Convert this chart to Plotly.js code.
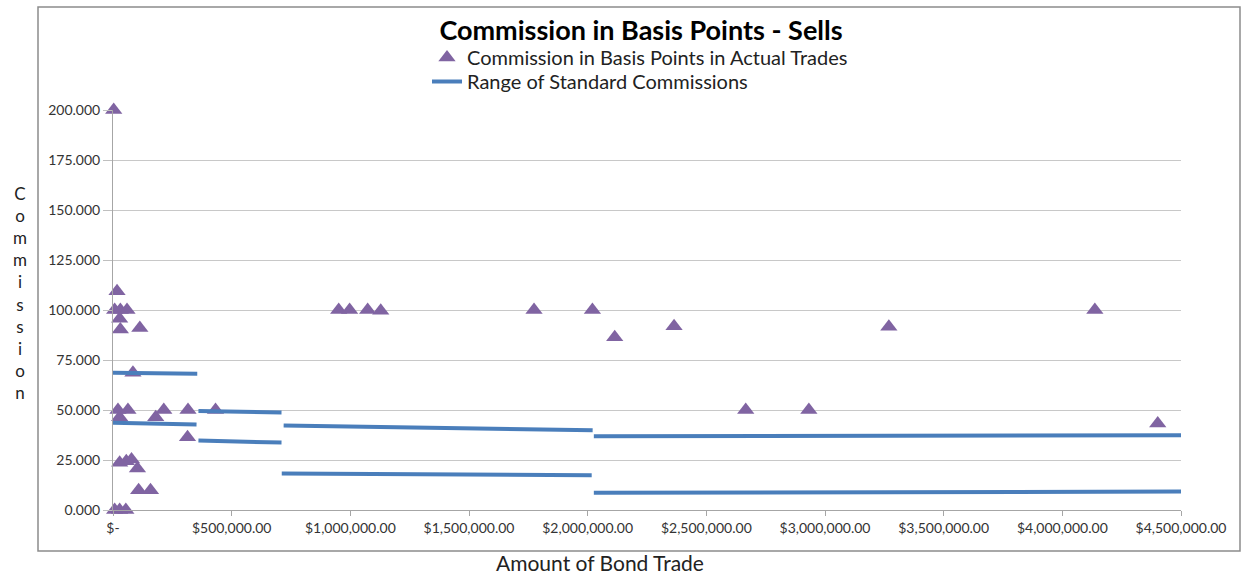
<!DOCTYPE html>
<html>
<head>
<meta charset="utf-8">
<script src="https://cdn.plot.ly/plotly-3.0.1.min.js"></script>
<style>
  html, body { margin: 0; padding: 0; background: #ffffff; }
  #chart { width: 1246px; height: 577px; }
</style>
</head>
<body>
<div id="chart"></div>
<script>
// Commission in basis points in actual trades (sells)
const tradeAmounts = [
  3000, 17000, 7000, 31000, 59000, 28000, 31000, 113000, 84000,
  21000, 63000, 214000, 316000, 432000, 28000, 180000, 314000,
  28000, 56000, 78000, 103000, 108000, 158000, 7000, 28000, 54000,
  951000, 997000, 1073000, 1128000, 1774000, 2020000, 2114000,
  2364000, 2666000, 2932000, 3269000, 4137000, 4402000
];
const commissionBps = [
  200, 109.4, 100, 100, 100, 95.6, 90.2, 91, 68.6,
  50, 50, 50, 50, 50, 46.4, 46.4, 36.4,
  23.6, 24.4, 25.2, 20.7, 9.9, 9.9, 0, 0, 0,
  100, 100, 100, 99.6, 100, 100, 86.4,
  91.9, 50, 50, 91.6, 100, 43.3
];

// Range of standard commissions: segment endpoints (null separates segments)
const rangeAmounts = [
  0, 355000, null,
  0, 352000, null,
  360000, 710000, null,
  360000, 710000, null,
  719000, 2021000, null,
  711000, 2017000, null,
  2026000, 4500000, null,
  2026000, 4500000
];
const rangeBps = [
  68.6, 68.1, null,
  43.6, 42.7, null,
  49.5, 48.8, null,
  34.7, 33.7, null,
  42.2, 39.9, null,
  18.2, 17.4, null,
  36.9, 37.4, null,
  8.6, 9.2
];

const xTickVals = [0, 500000, 1000000, 1500000, 2000000, 2500000, 3000000, 3500000, 4000000, 4500000];
const xTickText = ['$-', '$500,000.00', '$1,000,000.00', '$1,500,000.00', '$2,000,000.00',
                   '$2,500,000.00', '$3,000,000.00', '$3,500,000.00', '$4,000,000.00', '$4,500,000.00'];
const yTickVals = [0, 25, 50, 75, 100, 125, 150, 175, 200];

const FONT = 'Lato, "Open Sans", sans-serif';

const traces = [
  {
    type: 'scatter', mode: 'markers',
    name: 'Commission in Basis Points in Actual Trades',
    x: tradeAmounts, y: commissionBps,
    marker: { symbol: 'triangle-up', size: 15, color: '#8064a2', line: { width: 0 } },
    cliponaxis: false,
    legend: 'legend',
    hoverinfo: 'x+y'
  },
  {
    type: 'scatter', mode: 'lines',
    name: 'Range of Standard Commissions',
    x: rangeAmounts, y: rangeBps,
    line: { color: '#4a7ebb', width: 4 },
    connectgaps: false,
    cliponaxis: false,
    legend: 'legend2'
  }
];

const L = 113, R = 1181, T = 110, B = 510;
const PW = R - L, PH = B - T;
function px2x(px) { return (px - L) / PW; }
function py2y(py) { return (B - py) / PH; }

const legendFont = { family: FONT, size: 20, color: '#222222' };

const layout = {
  width: 1246, height: 577,
  margin: { l: L, r: 1246 - R, t: T, b: 577 - B, pad: 0 },
  paper_bgcolor: '#ffffff', plot_bgcolor: '#ffffff',
  font: { family: FONT, color: '#333333', size: 14 },
  title: {
    text: '<b>Commission in Basis Points - Sells</b>',
    font: { family: FONT, size: 27, color: '#000000' },
    xref: 'container', x: 641 / 1246, xanchor: 'center',
    yref: 'container', y: 1 - 31 / 577, yanchor: 'middle'
  },
  showlegend: true,
  legend: {
    x: px2x(427), xanchor: 'left',
    y: py2y(38), yanchor: 'top',
    font: legendFont, bgcolor: 'rgba(0,0,0,0)'
  },
  legend2: {
    x: px2x(427), xanchor: 'left',
    y: py2y(62), yanchor: 'top',
    font: legendFont, bgcolor: 'rgba(0,0,0,0)'
  },
  xaxis: {
    range: [0, 4500000],
    tickmode: 'array', tickvals: xTickVals, ticktext: xTickText,
    ticks: 'outside', ticklen: 5, tickcolor: '#a6a6a6',
    showgrid: false, zeroline: false,
    showline: true, linecolor: '#a6a6a6', linewidth: 1,
    tickfont: { family: FONT, size: 14, color: '#333333' },
    fixedrange: true
  },
  yaxis: {
    range: [0, 200],
    tickmode: 'array', tickvals: yTickVals, tickformat: '.3f',
    ticks: 'outside', ticklen: 9, tickcolor: '#bfbfbf',
    showgrid: true, gridcolor: '#c8c8c8', gridwidth: 1,
    zeroline: false,
    showline: true, linecolor: '#a6a6a6', linewidth: 1,
    tickfont: { family: FONT, size: 14, color: '#333333' },
    fixedrange: true
  },
  shapes: [
    {
      type: 'rect', xref: 'paper', yref: 'paper', layer: 'below',
      x0: px2x(38), x1: px2x(1240), y0: py2y(551), y1: py2y(7),
      line: { color: '#8c8c8c', width: 1.5 }, fillcolor: 'rgba(0,0,0,0)'
    }
  ],
  annotations: [
    {
      text: 'C<br>o<br>m<br>m<br>i<br>s<br>s<br>i<br>o<br>n',
      xref: 'paper', yref: 'paper', x: px2x(20), y: py2y(293),
      xanchor: 'center', yanchor: 'middle', showarrow: false,
      font: { family: FONT, size: 17, color: '#222222' }, align: 'center'
    },
    {
      text: 'Amount of Bond Trade',
      xref: 'paper', yref: 'paper', x: px2x(600), y: py2y(562),
      xanchor: 'center', yanchor: 'middle', showarrow: false,
      font: { family: FONT, size: 21, color: '#222222' }
    }
  ]
};

Plotly.newPlot('chart', traces, layout, { displayModeBar: false, staticPlot: false });
</script>
</body>
</html>
